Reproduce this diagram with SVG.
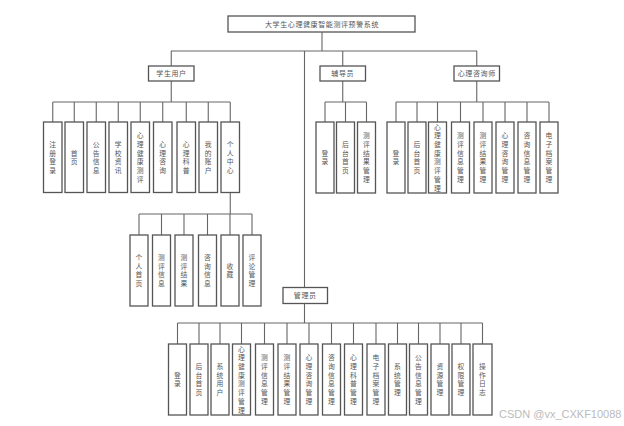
<svg xmlns="http://www.w3.org/2000/svg" width="624" height="426" viewBox="0 0 624 426">
<style>
.bg{fill:#fff}
.box{fill:#fff;stroke:#555;stroke-width:1.3}
.ln{fill:none;stroke:#666;stroke-width:1.1}
.t{font-family:"Noto Sans CJK SC","Noto Sans",sans-serif;font-size:7px;fill:#555;text-anchor:middle;letter-spacing:0.6px}
.v{font-family:"Noto Sans CJK SC","Noto Sans",sans-serif;font-size:6.8px;fill:#555;text-anchor:middle}
.wm{font-family:"Liberation Sans",Arial,sans-serif;font-size:11px;fill:#bbb}
</style>
<rect class="bg" x="0" y="0" width="624" height="426"/>
<g id="connectors">
<path class="ln" d="M322 32V51M171 51H477M171.25 51V66M304.5 51V287.5M342.75 51V66M476.75 51V66"/>
<path class="ln" d="M171.25 81V102M52.75 102H230.25M52.75 102V122M74.25 102V122M96.25 102V122M118.25 102V122M140.25 102V122M162.75 102V122M186.25 102V122M208.25 102V122M230.25 102V122"/>
<path class="ln" d="M230.25 192.5V214M139 214H252M139 214V235M161.5 214V235M184 214V235M207.5 214V235M230 214V235M252 214V235"/>
<path class="ln" d="M342.75 81V102M325 102H366.5M325 102V122M345.5 102V122M366.5 102V122"/>
<path class="ln" d="M476.75 81V102M396 102H549M396 102V122M417 102V122M437.5 102V122M460.5 102V122M483 102V122M505 102V122M527 102V122M549 102V122"/>
<path class="ln" d="M304.5 303.5V323M177.5 323H482.5M177.5 323V344M199 323V344M220 323V344M241.5 323V344M264.5 323V344M287 323V344M309 323V344M331.5 323V344M353.5 323V344M376 323V344M397.5 323V344M418.5 323V344M440 323V344M461 323V344M482.5 323V344"/>
</g>
<g id="root"><rect class="box" x="228" y="16" width="187" height="16"/><text class="t" x="322" y="26.5">大学生心理健康智能测评预警系统</text></g>
<g id="student"><rect class="box" x="148.5" y="66" width="45.5" height="15"/><text class="t" x="171.5" y="76">学生用户</text></g>
<g id="counselor"><rect class="box" x="320" y="66" width="45.5" height="15"/><text class="t" x="342.75" y="76">辅导员</text></g>
<g id="psych"><rect class="box" x="454" y="66" width="45.5" height="15"/><text class="t" x="476.75" y="76">心理咨询师</text></g>
<g id="admin"><rect class="box" x="283" y="287.5" width="44.5" height="16"/><text class="t" x="305.25" y="298">管理员</text></g>
<g id="student-items">
<rect class="box" x="43.5" y="122" width="18.5" height="70.5"/><text class="v" x="52.75 52.75 52.75 52.75" y="146.8 155.5 164.2 172.9">注册登录</text>
<rect class="box" x="65" y="122" width="18.5" height="70.5"/><text class="v" x="74.25 74.25" y="155.5 164.2">首页</text>
<rect class="box" x="87" y="122" width="18.5" height="70.5"/><text class="v" x="96.25 96.25 96.25 96.25" y="146.8 155.5 164.2 172.9">公告信息</text>
<rect class="box" x="109" y="122" width="18.5" height="70.5"/><text class="v" x="118.25 118.25 118.25 118.25" y="146.8 155.5 164.2 172.9">学校资讯</text>
<rect class="box" x="131" y="122" width="18.5" height="70.5"/><text class="v" x="140.25 140.25 140.25 140.25 140.25 140.25" y="138.1 146.8 155.5 164.2 172.9 181.6">心理健康测评</text>
<rect class="box" x="153.5" y="122" width="18.5" height="70.5"/><text class="v" x="162.75 162.75 162.75 162.75" y="146.8 155.5 164.2 172.9">心理咨询</text>
<rect class="box" x="177" y="122" width="18.5" height="70.5"/><text class="v" x="186.25 186.25 186.25 186.25" y="146.8 155.5 164.2 172.9">心理科普</text>
<rect class="box" x="199" y="122" width="18.5" height="70.5"/><text class="v" x="208.25 208.25 208.25 208.25" y="146.8 155.5 164.2 172.9">我的账户</text>
<rect class="box" x="221" y="122" width="18.5" height="70.5"/><text class="v" x="230.25 230.25 230.25 230.25" y="146.8 155.5 164.2 172.9">个人中心</text>
</g>
<g id="personal-items">
<rect class="box" x="130" y="235" width="18" height="71"/><text class="v" x="139 139 139 139" y="260.05 268.75 277.45 286.15">个人首页</text>
<rect class="box" x="152.5" y="235" width="18" height="71"/><text class="v" x="161.5 161.5 161.5 161.5" y="260.05 268.75 277.45 286.15">测评信息</text>
<rect class="box" x="175" y="235" width="18" height="71"/><text class="v" x="184 184 184 184" y="260.05 268.75 277.45 286.15">测评结果</text>
<rect class="box" x="198.5" y="235" width="18" height="71"/><text class="v" x="207.5 207.5 207.5 207.5" y="260.05 268.75 277.45 286.15">咨询信息</text>
<rect class="box" x="221" y="235" width="18" height="71"/><text class="v" x="230 230" y="268.75 277.45">收藏</text>
<rect class="box" x="243" y="235" width="18" height="71"/><text class="v" x="252 252 252 252" y="260.05 268.75 277.45 286.15">评论管理</text>
</g>
<g id="counselor-items">
<rect class="box" x="316" y="122" width="18" height="71"/><text class="v" x="325 325" y="155.75 164.45">登录</text>
<rect class="box" x="336.5" y="122" width="18" height="71"/><text class="v" x="345.5 345.5 345.5 345.5" y="147.05 155.75 164.45 173.15">后台首页</text>
<rect class="box" x="357.5" y="122" width="18" height="71"/><text class="v" x="366.5 366.5 366.5 366.5 366.5 366.5" y="138.35 147.05 155.75 164.45 173.15 181.85">测评结果管理</text>
</g>
<g id="psych-items">
<rect class="box" x="387" y="122" width="18" height="71"/><text class="v" x="396 396" y="155.75 164.45">登录</text>
<rect class="box" x="408" y="122" width="18" height="71"/><text class="v" x="417 417 417 417" y="147.05 155.75 164.45 173.15">后台首页</text>
<rect class="box" x="428.5" y="122" width="18" height="71"/><text class="v" x="437.5 437.5 437.5 437.5 437.5 437.5 437.5 437.5" y="129.65 138.35 147.05 155.75 164.45 173.15 181.85 190.55">心理健康测评管理</text>
<rect class="box" x="451.5" y="122" width="18" height="71"/><text class="v" x="460.5 460.5 460.5 460.5 460.5 460.5" y="138.35 147.05 155.75 164.45 173.15 181.85">测评信息管理</text>
<rect class="box" x="474" y="122" width="18" height="71"/><text class="v" x="483 483 483 483 483 483" y="138.35 147.05 155.75 164.45 173.15 181.85">测评结果管理</text>
<rect class="box" x="496" y="122" width="18" height="71"/><text class="v" x="505 505 505 505 505 505" y="138.35 147.05 155.75 164.45 173.15 181.85">心理咨询管理</text>
<rect class="box" x="518" y="122" width="18" height="71"/><text class="v" x="527 527 527 527 527 527" y="138.35 147.05 155.75 164.45 173.15 181.85">咨询信息管理</text>
<rect class="box" x="540" y="122" width="18" height="71"/><text class="v" x="549 549 549 549 549 549" y="138.35 147.05 155.75 164.45 173.15 181.85">电子档案管理</text>
</g>
<g id="admin-items">
<rect class="box" x="168.5" y="344" width="18" height="71"/><text class="v" x="177.5 177.5" y="377.75 386.45">登录</text>
<rect class="box" x="190" y="344" width="18" height="71"/><text class="v" x="199 199 199 199" y="369.05 377.75 386.45 395.15">后台首页</text>
<rect class="box" x="211" y="344" width="18" height="71"/><text class="v" x="220 220 220 220" y="369.05 377.75 386.45 395.15">系统用户</text>
<rect class="box" x="232.5" y="344" width="18" height="71"/><text class="v" x="241.5 241.5 241.5 241.5 241.5 241.5 241.5 241.5" y="351.65 360.35 369.05 377.75 386.45 395.15 403.85 412.55">心理健康测评管理</text>
<rect class="box" x="255.5" y="344" width="18" height="71"/><text class="v" x="264.5 264.5 264.5 264.5 264.5 264.5" y="360.35 369.05 377.75 386.45 395.15 403.85">测评信息管理</text>
<rect class="box" x="278" y="344" width="18" height="71"/><text class="v" x="287 287 287 287 287 287" y="360.35 369.05 377.75 386.45 395.15 403.85">测评结果管理</text>
<rect class="box" x="300" y="344" width="18" height="71"/><text class="v" x="309 309 309 309 309 309" y="360.35 369.05 377.75 386.45 395.15 403.85">心理咨询管理</text>
<rect class="box" x="322.5" y="344" width="18" height="71"/><text class="v" x="331.5 331.5 331.5 331.5 331.5 331.5" y="360.35 369.05 377.75 386.45 395.15 403.85">咨询信息管理</text>
<rect class="box" x="344.5" y="344" width="18" height="71"/><text class="v" x="353.5 353.5 353.5 353.5 353.5 353.5" y="360.35 369.05 377.75 386.45 395.15 403.85">心理科普管理</text>
<rect class="box" x="367" y="344" width="18" height="71"/><text class="v" x="376 376 376 376 376 376" y="360.35 369.05 377.75 386.45 395.15 403.85">电子档案管理</text>
<rect class="box" x="388.5" y="344" width="18" height="71"/><text class="v" x="397.5 397.5 397.5 397.5" y="369.05 377.75 386.45 395.15">系统管理</text>
<rect class="box" x="409.5" y="344" width="18" height="71"/><text class="v" x="418.5 418.5 418.5 418.5 418.5 418.5" y="360.35 369.05 377.75 386.45 395.15 403.85">公告信息管理</text>
<rect class="box" x="431" y="344" width="18" height="71"/><text class="v" x="440 440 440 440" y="369.05 377.75 386.45 395.15">资源管理</text>
<rect class="box" x="452" y="344" width="18" height="71"/><text class="v" x="461 461 461 461" y="369.05 377.75 386.45 395.15">权限管理</text>
<rect class="box" x="473" y="344" width="19" height="71"/><text class="v" x="482.5 482.5 482.5 482.5" y="369.05 377.75 386.45 395.15">操作日志</text>
</g>
<text class="wm" x="499" y="418">CSDN @vx_CXKF10088</text>
</svg>
